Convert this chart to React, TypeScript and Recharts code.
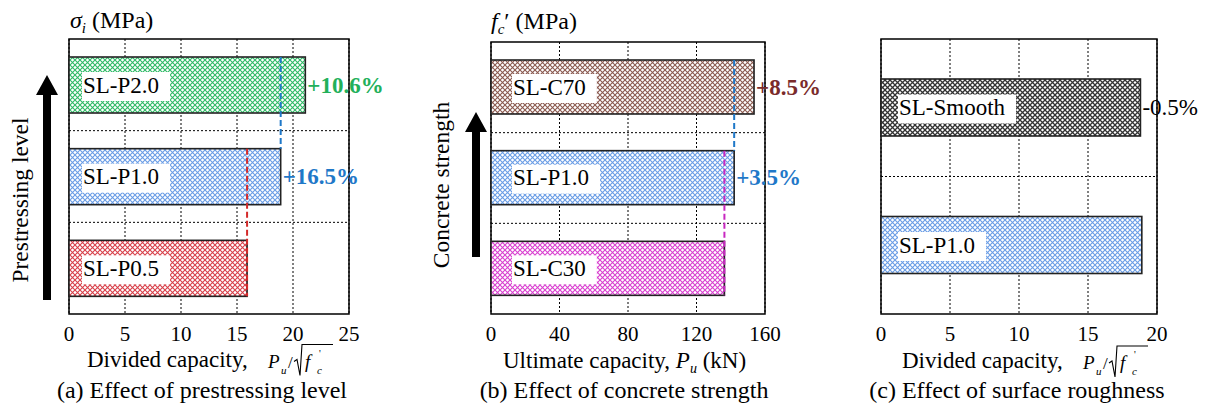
import React from 'react'
import { BarChart, Bar, XAxis, YAxis, CartesianGrid, ReferenceArea } from 'recharts'

const SERIF = "'Liberation Serif', 'Times New Roman', Tinos, 'DejaVu Serif', serif"

// (a) 프리스트레스 수준
const levelNames = ['SL-P2.0', 'SL-P1.0', 'SL-P0.5']
const levelValues = [21.1, 18.9, 15.9]
const levelGains = ['+10.6%', '+16.5%', '']
const levelTicks = [0, 5, 10, 15, 20, 25]

// (b) 콘크리트 강도
const strengthNames = ['SL-C70', 'SL-P1.0', 'SL-C30']
const strengthValues = [153.6, 142.0, 136.3]
const strengthGains = ['+8.5%', '+3.5%', '']
const strengthTicks = [0, 40, 80, 120, 160]

// (c) 표면 거칠기
const roughNames = ['SL-Smooth', 'SL-P1.0']
const roughValues = [18.8, 18.9]
const roughGains = ['-0.5%', '']
const roughTicks = [0, 5, 10, 15, 20]

interface Panel {
  id: string
  names: string[]
  values: number[]
  gains: string[]
  ticks: number[]
  hatch: string[]
  gainColor: string[]
  gainBold: boolean
  dashed: (string | null)[]
  left: number
  right: number
  top: number
  barSize: number
  labelOffset: number
}

const W = 1208
const H = 407
const AXIS_H = 30
const BOTTOM = 63
const PLOT_BOTTOM = H - BOTTOM - AXIS_H

const panels: Panel[] = [
  {
    id: 'a', names: levelNames, values: levelValues, gains: levelGains, ticks: levelTicks,
    hatch: ['#2fba66', '#6a9de6', '#d8404a'],
    gainColor: ['#22b05a', '#1f78c8', '#000'], gainBold: true,
    dashed: [null, '#1f78c8', '#d42a2a'],
    left: 69, right: W - 349, top: 39, barSize: 56, labelOffset: 13,
  },
  {
    id: 'b', names: strengthNames, values: strengthValues, gains: strengthGains, ticks: strengthTicks,
    hatch: ['#8b5a50', '#6a9de6', '#d93fd0'],
    gainColor: ['#7a2b2b', '#1f78c8', '#000'], gainBold: true,
    dashed: [null, '#1f78c8', '#c828c0'],
    left: 491, right: W - 765, top: 42, barSize: 54, labelOffset: 21,
  },
  {
    id: 'c', names: roughNames, values: roughValues, gains: roughGains, ticks: roughTicks,
    hatch: ['#333', '#6a9de6'],
    gainColor: ['#000', '#000'], gainBold: false,
    dashed: [null, null],
    left: 881, right: W - 1157, top: 39, barSize: 57, labelOffset: 17,
  },
]

const CW: Record<string, number> = { S: 0.556, L: 0.611, '-': 0.333, P: 0.556, C: 0.667, '.': 0.25, m: 0.778, o: 0.5, t: 0.278, h: 0.5 }
const textWidth = (s: string, size: number) => [...s].reduce((a, c) => a + (CW[c] ?? 0.5), 0) * size

const ff = { fontFamily: SERIF }

const makeShape = (p: Panel) => (props: any) => {
  const { x, y, width, height } = props
  const i = p.names.indexOf(props.payload?.name)
  const band = (PLOT_BOTTOM - p.top) / p.names.length
  const cy = y + height / 2
  const name = p.names[i]
  const gain = p.gains[i]
  const dash = p.dashed[i]
  const last = i === p.names.length - 1
  const bx = x + p.labelOffset
  return (
    <g>
      <rect x={x} y={y} width={width} height={height} fill={`url(#hatch-${p.id}-${i})`} stroke="#222" strokeWidth={1.6} />
      <rect x={bx} y={cy - 13} width={textWidth(name, 23) + 12} height={29} fill="#fff" />
      <text x={bx + 1} y={cy + 7.5} fontSize={23} style={ff} fill="#000">{name}</text>
      {dash && (
        <line x1={x + width} x2={x + width} y1={y - band} y2={last ? y + height : y}
          stroke={dash} strokeWidth={2} strokeDasharray="6 3" />
      )}
      {gain && (
        <text x={x + width + 2} y={cy + 7.5} fontSize={23} style={ff}
          fontWeight={p.gainBold ? 'bold' : 'normal'} fill={p.gainColor[i]}>{gain}</text>
      )}
    </g>
  )
}

const PanelChart = ({ p }: { p: Panel }) => {
  const rows = p.names.map((name, i) => ({ name, value: p.values[i] }))
  const max = p.ticks[p.ticks.length - 1]
  const n = p.names.length
  return (
    <div style={{ position: 'absolute', left: 0, top: 0 }}>
      <BarChart width={W} height={H} data={rows} layout="vertical" style={ff}
        margin={{ top: p.top, right: p.right, bottom: BOTTOM, left: p.left }}>
        <defs>
          {p.hatch.map((c, i) => (
            <pattern key={i} id={`hatch-${p.id}-${i}`} width={5} height={5} patternUnits="userSpaceOnUse">
              <rect width={5} height={5} fill="#fff" />
              <path d="M0,0 L5,5 M5,0 L0,5" stroke={c} strokeWidth={c === '#333' ? 1.3 : 1.1} />
            </pattern>
          ))}
        </defs>
        <CartesianGrid stroke="#000" strokeDasharray="2 2" strokeWidth={1}
          horizontalCoordinatesGenerator={({ offset }: any) => {
            const top = offset?.top ?? p.top
            const h = offset?.height ?? PLOT_BOTTOM - p.top
            return Array.from({ length: n - 1 }, (_, k) => top + ((k + 1) * h) / n)
          }} />
        <XAxis type="number" domain={[0, max]} ticks={p.ticks} interval={0}
          axisLine={false} tickLine={false} tickSize={0} tickMargin={12} height={AXIS_H}
          tick={{ fill: '#000', fontSize: 21, style: ff }} />
        <YAxis type="category" dataKey="name" hide />
        <Bar dataKey="value" barSize={p.barSize} isAnimationActive={false} shape={makeShape(p)} />
        <ReferenceArea x1={0} x2={max} fill="none" fillOpacity={0} stroke="#000" strokeWidth={1.5} />
      </BarChart>
    </div>
  )
}

const DividedLabel = ({ x, y }: { x: number; y: number }) => (
  <g fill="#000">
    <text x={x} y={y} fontSize={23}>Divided capacity,</text>
    <text x={x + 181} y={y + 1} fontSize={19} fontStyle="italic">P</text>
    <text x={x + 194} y={y + 7} fontSize={11} fontStyle="italic">u</text>
    <text x={x + 201} y={y + 1} fontSize={17}>/</text>
    <path d={`M${x + 207},${y - 5} L${x + 210},${y - 7} L${x + 213},${y + 9} L${x + 215},${y - 22} H${x + 246}`}
      fill="none" stroke="#000" strokeWidth={1.1} />
    <text x={x + 218} y={y + 1} fontSize={19} fontStyle="italic">f</text>
    <text x={x + 230} y={y + 7} fontSize={11} fontStyle="italic">c</text>
    <text x={x + 232} y={y - 10} fontSize={10}>'</text>
  </g>
)

const Arrow = ({ x, tip, base, headH }: { x: number; tip: number; base: number; headH: number }) => (
  <path fill="#000" d={`M${x},${tip} L${x + 11},${tip + headH} L${x + 4},${tip + headH} L${x + 4},${base} L${x - 4},${base} L${x - 4},${tip + headH} L${x - 11},${tip + headH} Z`} />
)

const Annotations = () => (
  <svg width={W} height={H} style={{ position: 'absolute', left: 0, top: 0, pointerEvents: 'none', ...ff }}>
    <g fill="#000">
      <text x={70} y={28} fontSize={24}>
        <tspan fontStyle="italic">σ</tspan>
        <tspan fontStyle="italic" fontSize={15} dy={5}>i</tspan>
        <tspan dy={-5}> (MPa)</tspan>
      </text>
      <text x={491} y={29} fontSize={24}>
        <tspan fontStyle="italic">f</tspan>
        <tspan fontStyle="italic" fontSize={15} dy={5}>c</tspan>
        <tspan dy={-5}>′ (MPa)</tspan>
      </text>

      <text transform="translate(28,200) rotate(-90)" textAnchor="middle" fontSize={23.5}>Prestressing level</text>
      <text transform="translate(449,185) rotate(-90)" textAnchor="middle" fontSize={23.5}>Concrete strength</text>

      <DividedLabel x={87} y={366.5} />
      <DividedLabel x={902} y={368} />
      <text x={503} y={367.5} fontSize={23}>
        Ultimate capacity, <tspan fontStyle="italic">P</tspan>
        <tspan fontStyle="italic" fontSize={14} dy={5}>u</tspan>
        <tspan dy={-5}> (kN)</tspan>
      </text>

      <text x={202} y={398} fontSize={24} textAnchor="middle">(a) Effect of prestressing level</text>
      <text x={624} y={398} fontSize={24} textAnchor="middle">(b) Effect of concrete strength</text>
      <text x={1017} y={398} fontSize={24} textAnchor="middle">(c) Effect of surface roughness</text>
    </g>
    <Arrow x={47} tip={75} base={300} headH={20} />
    <Arrow x={476} tip={112} base={257} headH={20} />
  </svg>
)

export default function App() {
  return (
    <div style={{ position: 'fixed', left: 0, top: 0, width: W, height: H, background: '#fff', ...ff }}>
      {panels.map((p) => (
        <PanelChart key={p.id} p={p} />
      ))}
      <Annotations />
    </div>
  )
}
